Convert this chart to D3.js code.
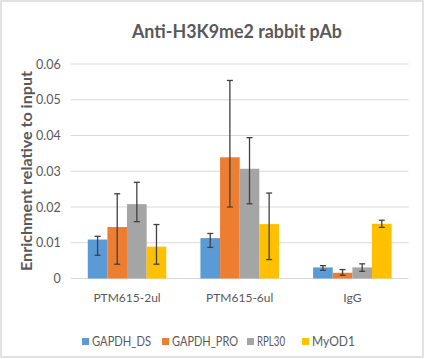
<!DOCTYPE html>
<html><head><meta charset="utf-8">
<script src="https://cdn.jsdelivr.net/npm/d3@7/dist/d3.min.js"></script>
<style>body{margin:0;background:#fff}svg{display:block}</style>
</head><body>
<svg id="chart" width="425" height="359"></svg>
<script>
const categories = ["PTM615-2ul", "PTM615-6ul", "IgG"];
const seriesNames = ["GAPDH_DS", "GAPDH_PRO", "RPL30", "MyOD1"];
const seriesColors = ["#5B9BD5", "#ED7D31", "#A5A5A5", "#FFC000"];
const GAPDH_DS = [0.0109, 0.0113, 0.0031];
const GAPDH_PRO = [0.0144, 0.0339, 0.0016];
const RPL30 = [0.0208, 0.0307, 0.0031];
const MyOD1 = [0.0089, 0.0152, 0.0153];
const errHigh = [[0.0118, 0.0126, 0.0036],[0.0237, 0.0554, 0.0025],[0.0269, 0.0394, 0.0041],[0.0151, 0.0239, 0.0163]];
const errLow = [[0.0065, 0.0087, 0.0023],[0.0040, 0.0200, 0.0009],[0.0159, 0.0209, 0.0020],[0.0040, 0.0053, 0.0143]];
const yTicks = [0, 0.01, 0.02, 0.03, 0.04, 0.05, 0.06];
const title = "Anti-H3K9me2 rabbit pAb";
const yTitle = "Enrichment relative to input";

const values = [GAPDH_DS, GAPDH_PRO, RPL30, MyOD1];
const svg = d3.select("#chart");
const font = "Lato, sans-serif";

svg.append("rect").attr("x",1).attr("y",1).attr("width",422).attr("height",356)
  .attr("fill","#fff").attr("stroke","#d9d9d9").attr("stroke-width",1.5);

const x0 = d3.scaleBand().domain(categories).range([70.7, 408.7]).paddingInner(0).paddingOuter(0);
const x1 = d3.scaleBand().domain(seriesNames).range([0, x0.bandwidth()]).paddingInner(0).paddingOuter(0.87);
const y = d3.scaleLinear().domain([0, 0.06]).range([278.5, 64]);

// gridlines
svg.append("g").selectAll("line").data(yTicks).join("line")
  .attr("x1", 70.7).attr("x2", 408.7)
  .attr("y1", d => y(d)).attr("y2", d => y(d))
  .attr("stroke", "#d9d9d9").attr("stroke-width", 1);

// y axis labels
const yAxis = d3.axisLeft(y).tickValues(yTicks).tickSize(0).tickPadding(10)
  .tickFormat(d => d === 0 ? "0" : d3.format(".2f")(d));
const gy = svg.append("g").attr("transform", "translate(70.7,0)").call(yAxis);
gy.select(".domain").remove();
gy.selectAll("text").attr("font-family", font).attr("font-size", 12.5).attr("fill", "#595959");

// x axis labels
const xAxis = d3.axisBottom(x0).tickSize(0).tickPadding(15);
const gx = svg.append("g").attr("transform", "translate(0,278.5)").call(xAxis);
gx.select(".domain").remove();
gx.selectAll("text").attr("font-family", font).attr("font-size", 12).attr("fill", "#595959");

// bars
const groups = svg.append("g").selectAll("g").data(categories).join("g")
  .attr("transform", c => `translate(${x0(c)},0)`);
groups.each(function(c, ci) {
  const g = d3.select(this);
  seriesNames.forEach((s, si) => {
    const v = values[si][ci];
    g.append("rect").attr("x", x1(s)).attr("width", x1.bandwidth())
      .attr("y", y(v)).attr("height", y(0) - y(v)).attr("fill", seriesColors[si]);
  });
  seriesNames.forEach((s, si) => {
    const cx = x1(s) + x1.bandwidth() / 2;
    const hi = y(errHigh[si][ci]), lo = y(errLow[si][ci]);
    const eg = g.append("g").attr("stroke", "#404040").attr("stroke-width", 1.3);
    eg.append("line").attr("x1", cx).attr("x2", cx).attr("y1", hi).attr("y2", lo);
    eg.append("line").attr("x1", cx - 3).attr("x2", cx + 3).attr("y1", hi).attr("y2", hi);
    eg.append("line").attr("x1", cx - 3).attr("x2", cx + 3).attr("y1", lo).attr("y2", lo);
  });
});

// title
svg.append("text").attr("x", 237).attr("y", 38).attr("text-anchor", "middle")
  .attr("font-family", font).attr("font-weight", 700).attr("font-size", 18.5)
  .attr("textLength", 210).attr("lengthAdjust", "spacingAndGlyphs")
  .attr("fill", "#595959").text(title);

// y title
svg.append("text").attr("transform", "translate(32,171) rotate(-90)").attr("text-anchor", "middle")
  .attr("font-family", font).attr("font-weight", 700).attr("font-size", 14.5)
  .attr("textLength", 200).attr("lengthAdjust", "spacingAndGlyphs")
  .attr("fill", "#595959").text(yTitle);

// legend
const legendX = [82, 162, 247, 302];
const legendW = [59, 66, 28, 43];
const lg = svg.append("g").selectAll("g").data(seriesNames).join("g")
  .attr("transform", (d, i) => `translate(${legendX[i]},341.5)`);
lg.append("rect").attr("x", 0).attr("y", -3.5).attr("width", 7).attr("height", 7)
  .attr("fill", (d, i) => seriesColors[i]);
lg.append("text").attr("x", 10).attr("y", 0).attr("dy", "0.35em")
  .attr("font-family", font).attr("font-size", 13)
  .attr("textLength", (d, i) => legendW[i]).attr("lengthAdjust", "spacingAndGlyphs")
  .attr("fill", "#595959").text(d => d);
</script>
</body></html>
